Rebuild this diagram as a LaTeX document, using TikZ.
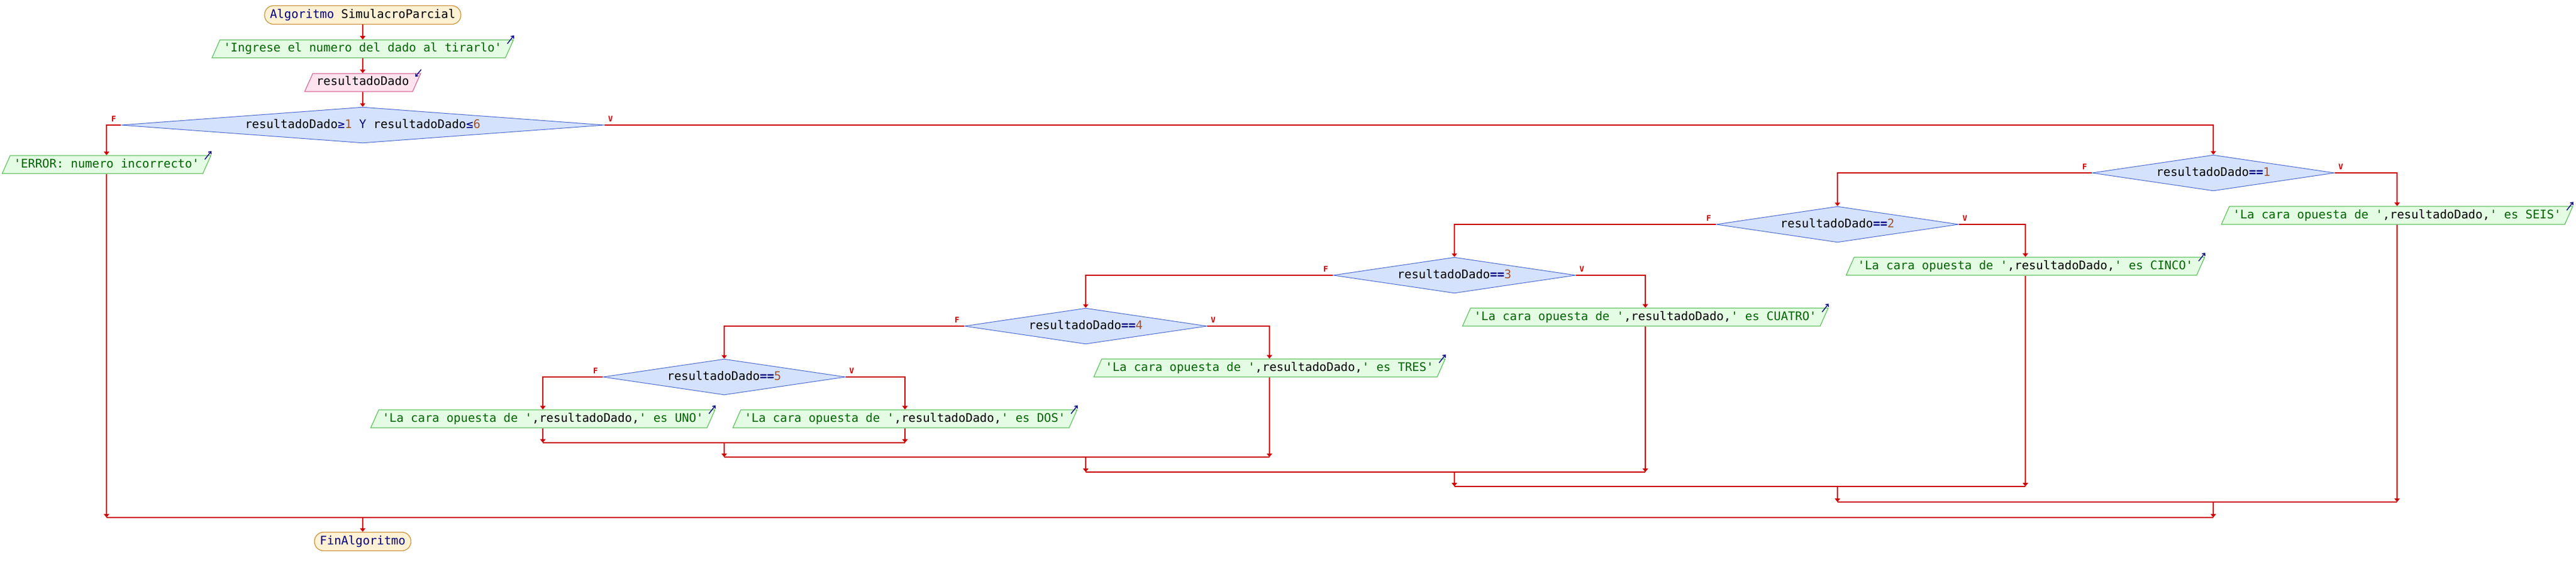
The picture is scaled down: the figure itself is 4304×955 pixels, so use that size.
\documentclass[tikz,border=0pt]{standalone}
\usepackage{fontspec}
\setmonofont{DejaVu Sans Mono}
\usetikzlibrary{positioning,calc,shapes.geometric,arrows.meta}

\definecolor{rojo}{HTML}{CC0000}
\definecolor{azulos}{HTML}{000080}
\definecolor{verdeos}{HTML}{006400}
\definecolor{cafe}{HTML}{A0522D}
\definecolor{fondoterm}{HTML}{FFF1D4}
\definecolor{bordeterm}{HTML}{C8913A}
\definecolor{fondosal}{HTML}{E4FCE4}
\definecolor{bordesal}{HTML}{60C060}
\definecolor{fondoent}{HTML}{FDE3EE}
\definecolor{bordeent}{HTML}{D66A9A}
\definecolor{fondodec}{HTML}{D5E2FE}
\definecolor{bordedec}{HTML}{4A6ACF}

\newcommand{\cad}[1]{\textcolor{verdeos}{#1}}
\newcommand{\nro}[1]{\textcolor{cafe}{#1}}
\newcommand{\oper}[1]{\textcolor{azulos}{#1}}

\begin{document}
\begin{tikzpicture}[
    x=0.5pt, y=-0.5pt, % 1 unidad = 1 pixel
    node distance=12.5pt, % Distancia entre bloques
    font=\ttfamily\fontsize{9.9}{12}\selectfont,
    terminal/.style={rectangle, rounded corners=7.5pt, draw=bordeterm, fill=fondoterm, text=azulos,
        text height=7.5pt, text depth=2.5pt, inner xsep=4.5pt, inner ysep=2.75pt, line width=0.6pt}, % Inicio y fin
    salida/.style={trapezium, trapezium left angle=66, trapezium right angle=114, draw=bordesal, fill=fondosal,
        text height=7.5pt, text depth=2.5pt, inner xsep=3pt, inner ysep=2.5pt, line width=0.6pt}, % Escribir
    entrada/.style={salida, draw=bordeent, fill=fondoent}, % Leer
    decision/.style={diamond, draw=bordedec, fill=fondodec, aspect=6.75, minimum width=202.5pt, minimum height=30pt,
        text height=7.5pt, text depth=2.5pt, inner sep=0pt, line width=0.5pt}, % Si
    flecha/.style={draw=rojo, line width=1pt, -{Triangle[length=3pt,width=4.5pt]}}, % Flechas
    linea/.style={draw=rojo, line width=1pt}, % Uniones
    etiq/.style={text=rojo, inner sep=0pt, font=\ttfamily\bfseries\fontsize{6.5}{7}\selectfont}, % F y V
    icono/.style={draw=azulos, line width=0.7pt, -{Straight Barb[length=1.8pt,width=3pt]}}
    ]

    \useasboundingbox (0,0) rectangle (4304,955);

    % Inicio, escribir y leer
    \node[terminal] (Inicio) at (606,25) {Algoritmo \textcolor{black}{SimulacroParcial}};
    \node[salida, below=of Inicio] (Out0) {\cad{'Ingrese el numero del dado al tirarlo'}};
    \node[entrada, below=of Out0] (In0) {resultadoDado};

    % Condicion principal
    \node[decision, below=of In0, minimum width=403.5pt, aspect=13.45] (D0)
        {resultadoDado\oper{≥}\nro{1} \oper{Y} resultadoDado\oper{≤}\nro{6}};
    \node[salida] (Err) at (178,275) {\cad{'ERROR: numero incorrecto'}};

    % Condiciones anidadas
    \foreach \k/\x/\y in {1/3698/289, 2/3070/375, 3/2430/460, 4/1814/545, 5/1210/630}
        \node[decision] (D\k) at (\x,\y) {resultadoDado\oper{\textbf{==}}\nro{\k}};

    % Mensajes
    \foreach \k/\x/\y/\t in {1/4005/360/SEIS, 2/3384/445/CINCO, 3/2749/530/CUATRO,
                             4/2121/615/TRES, 5/1512/700/DOS, 6/907/700/UNO}
        \node[salida] (S\k) at (\x,\y) {\cad{'La cara opuesta de '},resultadoDado,\cad{' es \t'}};

    \node[terminal] (Fin) at (606,905) {FinAlgoritmo};

    % Puntos de union
    \coordinate (M5) at (1210,740);
    \coordinate (M4) at (1814,764);
    \coordinate (M3) at (2430,789);
    \coordinate (M2) at (3070,813);
    \coordinate (M1) at (3698,839);
    \coordinate (M0) at (606,865);

    % Iconos de escribir y leer
    \foreach \s in {Out0,Err,S1,S2,S3,S4,S5,S6}
        \draw[icono] ([xshift=-5.5pt,yshift=-3.5pt]\s.top right corner) -- ++(5.5pt,7pt);
    \draw[icono] ([yshift=3pt]In0.top right corner) -- ++(-5pt,-6pt);

    % Secuencia
    \draw[flecha] (Inicio) -- (Out0);
    \draw[flecha] (Out0) -- (In0);
    \draw[flecha] (In0) -- (D0);

    % Ramas F y V
    \foreach \i/\f/\v in {0/Err/D1, 1/D2/S1, 2/D3/S2, 3/D4/S3, 4/D5/S4, 5/S6/S5} {
        \draw[flecha] (D\i.west) -| (\f);
        \draw[flecha] (D\i.east) -| (\v);
        \node[etiq] (F\i) at ([xshift=-6pt,yshift=5pt]D\i.west) {F};
        \node[etiq] (V\i) at ([xshift=5pt,yshift=5pt]D\i.east) {V};
    }

    % Uniones
    \foreach \s/\m in {S6/M5, S5/M5, S4/M4, S3/M3, S2/M2, S1/M1, Err/M0}
        \draw[flecha] (\s) -- (\s |- \m);
    \draw[linea] (S6 |- M5) -- (S5 |- M5);
    \foreach \k/\j/\s in {5/4/S4, 4/3/S3, 3/2/S2, 2/1/S1}
        \draw[linea] (M\k |- M\j) -- (\s |- M\j);
    \draw[linea] (Err |- M0) -- (M1 |- M0);
    \foreach \k/\j in {5/4, 4/3, 3/2, 2/1, 1/0}
        \draw[flecha] (M\k) -- (M\k |- M\j);
    \draw[flecha] (M0) -- (Fin);

\end{tikzpicture}
\end{document}
